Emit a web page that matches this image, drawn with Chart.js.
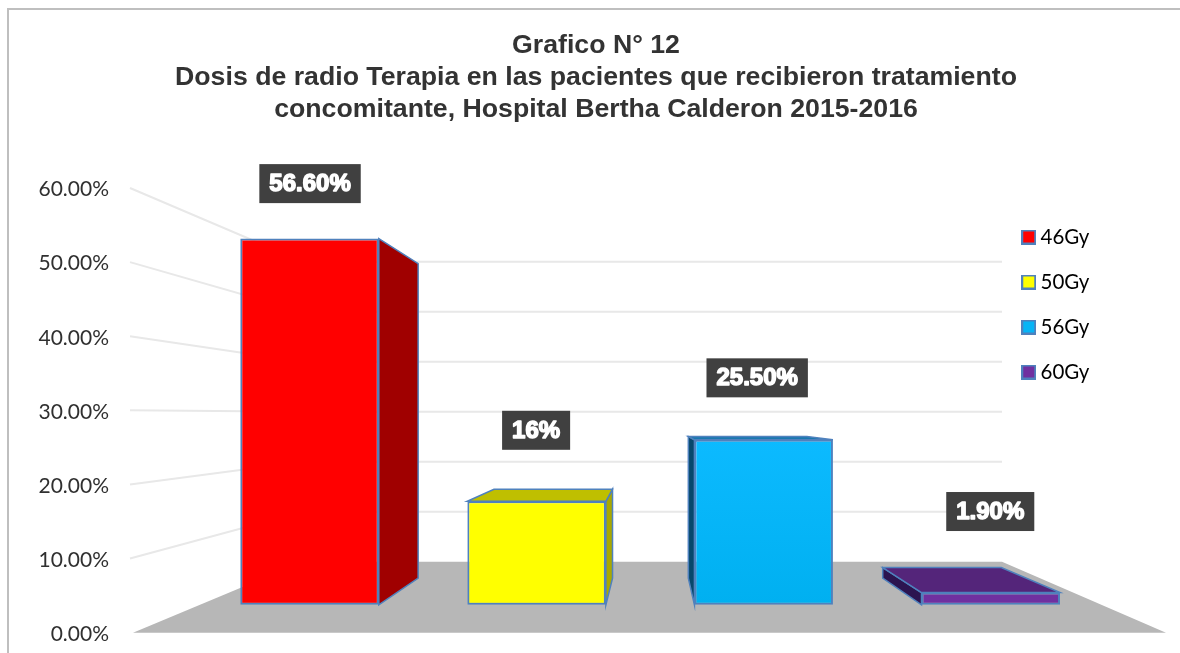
<!DOCTYPE html>
<html>
<head>
<meta charset="utf-8">
<style>html,body{margin:0;padding:0;background:#fff}canvas{display:block}</style>
<script src="https://cdn.jsdelivr.net/npm/chart.js@4"></script>
</head>
<body>
<canvas id="c" width="1180" height="653"></canvas>
<script>
const categories = ['46Gy', '50Gy', '56Gy', '60Gy'];
const doseValues = [56.6, 16, 25.5, 1.9];
const valueLabels = ['56.60%', '16%', '25.50%', '1.90%'];
const titleLines = ['Grafico N° 12', 'Dosis de radio Terapia en las pacientes que recibieron tratamiento', 'concomitante, Hospital Bertha Calderon 2015-2016'];
const frontColors = ['#ff0000', '#ffff00', '#06b4f6', '#7030a0'];
const sideColors = ['#a00000', '#a9a900', '#07486c', '#2c1450'];
const topColors = ['#a00000', '#bfbf00', '#1a78b0', '#54257a'];
const labelNudge = [[0.5, -55], [-0.5, -71], [-6.5, -62], [-0.5, -81]];

const EDGE = '#4f81bd';
const toBack = (x, y) => [93.9 + 0.856 * x, 58.6 + 0.859 * y];

function poly(ctx, pts, fill, stroke, lw) {
  ctx.beginPath();
  pts.forEach((p, i) => i ? ctx.lineTo(p[0], p[1]) : ctx.moveTo(p[0], p[1]));
  ctx.closePath();
  if (fill) { ctx.fillStyle = fill; ctx.fill(); }
  if (stroke) { ctx.strokeStyle = stroke; ctx.lineWidth = lw; ctx.stroke(); }
}

function swatch(color) {
  const c = document.createElement('canvas');
  c.width = 15; c.height = 15;
  const g = c.getContext('2d');
  g.fillStyle = EDGE;
  g.fillRect(0, 0, 15, 15);
  g.fillStyle = color;
  g.fillRect(2, 2, 11, 11);
  return c;
}

const scene = {
  id: 'scene',
  afterLayout(chart) {
    const l = chart.legend;
    l.left = 1002.65; l.right = l.left + l.width;
    l.top = 202.25; l.bottom = l.top + l.height;
    const t = chart.titleBlock;
    t.left = 12; t.right = 1180;
  },
  beforeDraw(chart) {
    const ctx = chart.ctx;
    ctx.save();
    ctx.fillStyle = '#bfbfbf';
    ctx.fillRect(8, 8, 1172, 2);
    ctx.fillRect(7, 8, 2, 645);
    ctx.restore();
  },
  beforeDatasetsDraw(chart) {
    const ctx = chart.ctx, sF = chart.scales.y, sB = chart.scales.yBack;
    const lx = 303, rx = 1002, wx = 130;
    ctx.save();
    poly(ctx, [[133, sF.getPixelForValue(0)], [1166, sF.getPixelForValue(0)], [rx, sB.getPixelForValue(0)], [lx, sB.getPixelForValue(0)]], '#b7b7b7');
    ctx.strokeStyle = '#e8e8e8';
    ctx.lineWidth = 2;
    sF.ticks.forEach(t => {
      if (t.value === 0) return;
      ctx.beginPath();
      ctx.moveTo(wx, sF.getPixelForValue(t.value));
      ctx.lineTo(lx, sB.getPixelForValue(t.value));
      ctx.lineTo(rx, sB.getPixelForValue(t.value));
      ctx.stroke();
    });
    chart.getDatasetMeta(0).data.forEach((b, i) => {
      const L = b.x - b.width / 2, R = b.x + b.width / 2, T = b.y, B = b.base;
      const tl = toBack(L, T), tr = toBack(R, T), bl = toBack(L, B), br = toBack(R, B);
      if (tr[0] > R) poly(ctx, [[R, T], tr, br, [R, B]], sideColors[i], EDGE, 1.5);
      if (tl[0] < L) poly(ctx, [[L, T], tl, bl, [L, B]], sideColors[i], EDGE, 1.5);
      if (tl[1] < T) poly(ctx, [[L, T], tl, tr, [R, T]], topColors[i], EDGE, 1.5);
    });
    ctx.restore();
  },
  afterDatasetsDraw(chart) {
    const ctx = chart.ctx;
    ctx.save();
    ctx.font = 'bold 24px "Liberation Sans"';
    ctx.textAlign = 'center';
    ctx.textBaseline = 'middle';
    chart.getDatasetMeta(0).data.forEach((b, i) => {
      const cx = b.x + labelNudge[i][0], cy = b.y + labelNudge[i][1];
      const w = ctx.measureText(valueLabels[i]).width + 20, h = 39;
      ctx.fillStyle = '#404040';
      ctx.fillRect(cx - w / 2, cy - h / 2, w, h);
      ctx.fillStyle = '#fff';
      ctx.strokeStyle = '#fff';
      ctx.lineWidth = 1.5;
      ctx.lineJoin = 'round';
      ctx.strokeText(valueLabels[i], cx, cy + 1);
      ctx.fillText(valueLabels[i], cx, cy + 1);
    });
    ctx.restore();
  }
};

new Chart(document.getElementById('c'), {
  type: 'bar',
  plugins: [scene],
  data: {
    labels: categories,
    datasets: [{
      data: doseValues,
      yAxisID: 'yBar',
      backgroundColor: c => {
        if (c.dataIndex !== 2) return frontColors[c.dataIndex];
        const g = c.chart.ctx.createLinearGradient(0, 440, 0, 605);
        g.addColorStop(0, '#0cbaff');
        g.addColorStop(1, '#00b0f0');
        return g;
      },
      borderColor: EDGE,
      borderWidth: 2,
      borderSkipped: false,
      barPercentage: 0.61,
      categoryPercentage: 1
    }]
  },
  options: {
    responsive: false,
    animation: false,
    layout: { padding: { left: 30, right: 75.7, top: 0, bottom: 20.3 } },
    plugins: {
      tooltip: { enabled: false },
      title: {
        display: true,
        text: titleLines,
        color: '#333333',
        font: { family: '"Liberation Sans"', size: 26.7, weight: 'bold', lineHeight: 1.2 },
        padding: { top: 29.7, bottom: 62.2 }
      },
      legend: {
        position: 'chartArea',
        align: 'start',
        labels: {
          font: { family: 'Lato', size: 20.5 },
          color: '#0d0d0d',
          usePointStyle: true,
          pointStyleWidth: 3.1,
          boxHeight: 13,
          padding: 24.5,
          generateLabels: () => categories.map((c, i) => ({
            text: c, pointStyle: swatch(frontColors[i]), fillStyle: frontColors[i], strokeStyle: EDGE, lineWidth: 2, index: i, hidden: false
          }))
        }
      }
    },
    scales: {
      x: { display: false },
      y: {
        position: 'left',
        min: 0,
        max: 60,
        afterFit: s => { s.width = 166; },
        grid: { display: false, drawTicks: true, tickLength: 87 },
        border: { display: false },
        ticks: {
          stepSize: 10,
          padding: 0,
          labelOffset: 1.5,
          color: '#303030',
          font: { family: 'Lato', size: 21 },
          callback: v => v.toFixed(2) + '%'
        }
      },
      yBar: { display: false, min: -4.31, max: 64.42 },
      yBack: { display: false, min: -14.2, max: 74.74 }
    }
  }
});
</script>
</body>
</html>
